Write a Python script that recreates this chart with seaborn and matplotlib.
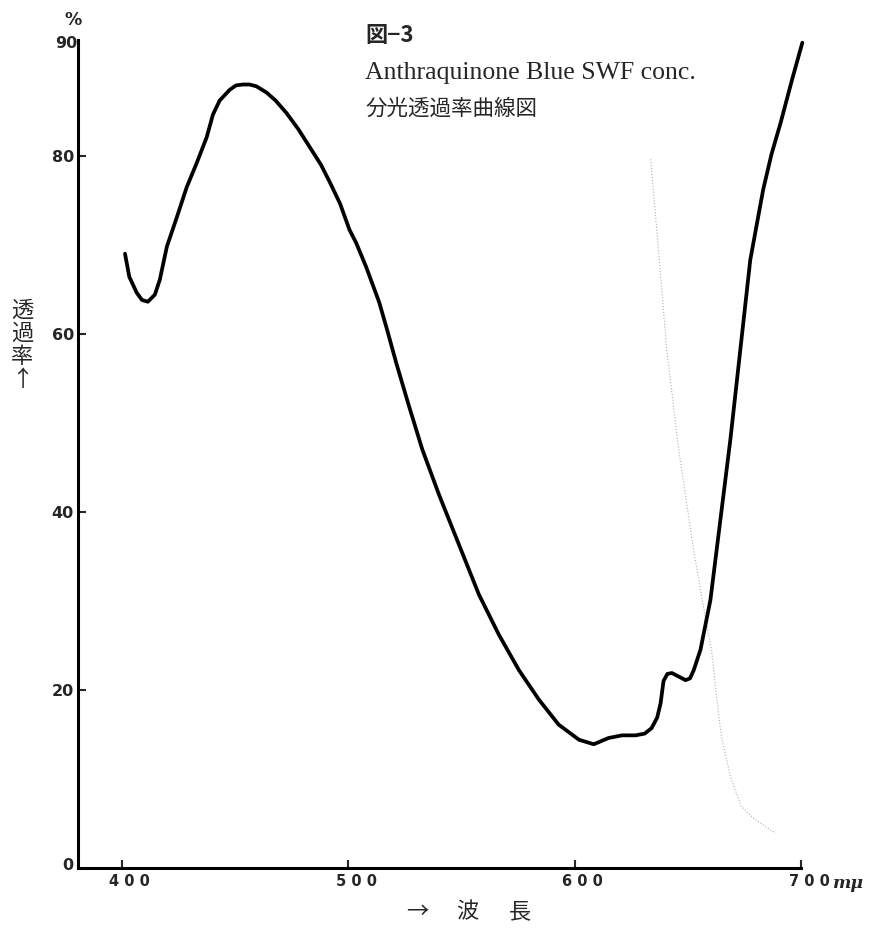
import matplotlib
matplotlib.use("Agg")
import matplotlib.pyplot as plt
import matplotlib.transforms as mtransforms
import pandas as pd
import seaborn as sns

# spectral transmittance (nm, %)
wavelength = [401.5, 403.4, 406.7, 409.0, 411.6, 414.7, 416.9, 420.0, 424.4, 428.8,
              433.2, 437.6, 440.3, 443.3, 447.7, 450.5, 453.5, 456.5, 459.5, 464.0,
              468.0, 472.8, 478.0, 483.0, 488.0, 492.0, 496.5, 500.6, 503.6, 508.0,
              513.8, 517.3, 521.3, 527.0, 532.8, 540.2, 549.0, 557.8, 566.6, 575.5,
              584.3, 593.0, 602.0, 608.5, 615.0, 621.0, 627.0, 631.0, 634.0, 636.5,
              638.0, 639.3, 641.0, 643.0, 646.0, 649.0, 651.0, 652.6, 655.6, 660.0,
              664.4, 668.8, 673.2, 677.6, 683.3, 687.0, 691.0, 696.0, 700.6]
transmit = [69.0, 66.4, 64.6, 63.8, 63.6, 64.4, 66.1, 69.8, 73.1, 76.5,
            79.2, 82.1, 84.6, 86.2, 87.4, 87.9, 88.0, 88.0, 87.8, 87.1,
            86.2, 84.8, 83.0, 81.0, 79.0, 77.0, 74.6, 71.7, 70.2, 67.5,
            63.5, 60.4, 56.7, 51.8, 47.0, 41.9, 36.3, 30.7, 26.2, 22.2,
            18.9, 16.1, 14.4, 13.9, 14.6, 14.9, 14.9, 15.1, 15.7, 16.9,
            18.5, 21.0, 21.8, 21.9, 21.5, 21.1, 21.3, 22.2, 24.5, 30.1,
            39.1, 48.1, 58.2, 68.3, 76.2, 80.2, 83.7, 88.5, 92.7]

# faint show-through trace visible on the scan
ghost_wavelength = [633.6, 637.1, 640.7, 646.0, 652.6, 657.9, 660.5, 662.7, 664.9,
                    668.9, 673.7, 679.0, 688.7]
ghost_transmit = [79.6, 69.4, 58.2, 47.0, 35.7, 27.9, 24.5, 19.2, 14.7,
                  10.2, 6.9, 5.6, 3.9]

x_ticks = [400, 500, 600, 700]
x_tick_labels = ["4 0 0", "5 0 0", "6 0 0", "7 0 0"]
y_ticks = [20, 40, 60, 80]
y_tick_labels = ["20", "40", "60", "80"]

df = pd.DataFrame({"wavelength": wavelength, "transmit": transmit})
ghost = pd.DataFrame({"wavelength": ghost_wavelength, "transmit": ghost_transmit})

sns.set_style("ticks")
plt.rcParams["font.family"] = ["Noto Sans CJK JP", "DejaVu Sans"]

fig = plt.figure(figsize=(8.74, 9.34), dpi=100)
ax = fig.add_axes([78 / 874, 1 - 868 / 934, (801 - 78) / 874, (868 - 40) / 934])

sns.lineplot(data=ghost, x="wavelength", y="transmit", ax=ax, color="#b0b0b0",
             linewidth=0.8, linestyle=":", sort=False)
sns.lineplot(data=df, x="wavelength", y="transmit", ax=ax, color="black",
             linewidth=2.7, sort=False, clip_on=False)

ax.set_xlim(380.75, 700)
ax.set_ylim(0, 93)
ax.set_xlabel("")
ax.set_ylabel("")
ax.spines["top"].set_visible(False)
ax.spines["right"].set_visible(False)
for s in ("left", "bottom"):
    ax.spines[s].set_linewidth(2.2)
    ax.spines[s].set_color("black")

ax.set_xticks(x_ticks)
ax.set_xticklabels(x_tick_labels, fontsize=10.5, fontweight="bold", family="DejaVu Sans")
ax.set_yticks(y_ticks)
ax.set_yticklabels(y_tick_labels, fontsize=11.5, fontweight="bold", family="DejaVu Sans")
ax.tick_params(axis="x", direction="in", length=6, width=1.5, pad=4)
ax.tick_params(axis="y", direction="in", length=6, width=1.5, pad=3)

shift = mtransforms.ScaledTranslation(8 / 100, 0, fig.dpi_scale_trans)
for lab in ax.get_xticklabels():
    lab.set_transform(lab.get_transform() + shift)

# extra axis annotations
fig.text(73 / 874, 1 - 865 / 934, "0", ha="right", va="center", fontsize=11.5,
         fontweight="bold", family="DejaVu Sans")
fig.text(77 / 874, 1 - 43 / 934, "90", ha="right", va="center", fontsize=11.5,
         fontweight="bold", family="DejaVu Sans")
fig.text(73 / 874, 1 - 20 / 934, "%", ha="center", va="center", fontsize=12.5,
         fontweight="bold", family="DejaVu Sans")
fig.text(848 / 874, 1 - 884 / 934, "mμ", ha="center", va="center", fontsize=12.5,
         fontweight="bold", style="italic", family="DejaVu Serif")

fig.text(22 / 874, 1 - 345 / 934, "透\n過\n率\n↑", ha="center", va="center",
         fontsize=16, linespacing=1.0, family=["Noto Sans CJK JP", "DejaVu Sans"])
for xp, ch in [(417, "→"), (467, "波"), (520, "長")]:
    fig.text(xp / 874, 1 - 912 / 934, ch, ha="center", va="center", fontsize=16,
             family=["Noto Sans CJK JP", "DejaVu Sans"])

fig.text(365 / 874, 1 - 36 / 934, "図−3", ha="left", va="center", fontsize=16,
         fontweight="bold", family=["Noto Sans CJK JP", "DejaVu Sans"])
fig.text(365 / 874, 1 - 73 / 934, "Anthraquinone Blue SWF conc.", ha="left",
         va="center", fontsize=18.5, family="Liberation Serif")
fig.text(365 / 874, 1 - 109 / 934, "分光透過率曲線図", ha="left", va="center",
         fontsize=15.5, family=["Noto Sans CJK JP", "DejaVu Sans"])

fig.savefig("out.png", dpi=100, facecolor="white")
